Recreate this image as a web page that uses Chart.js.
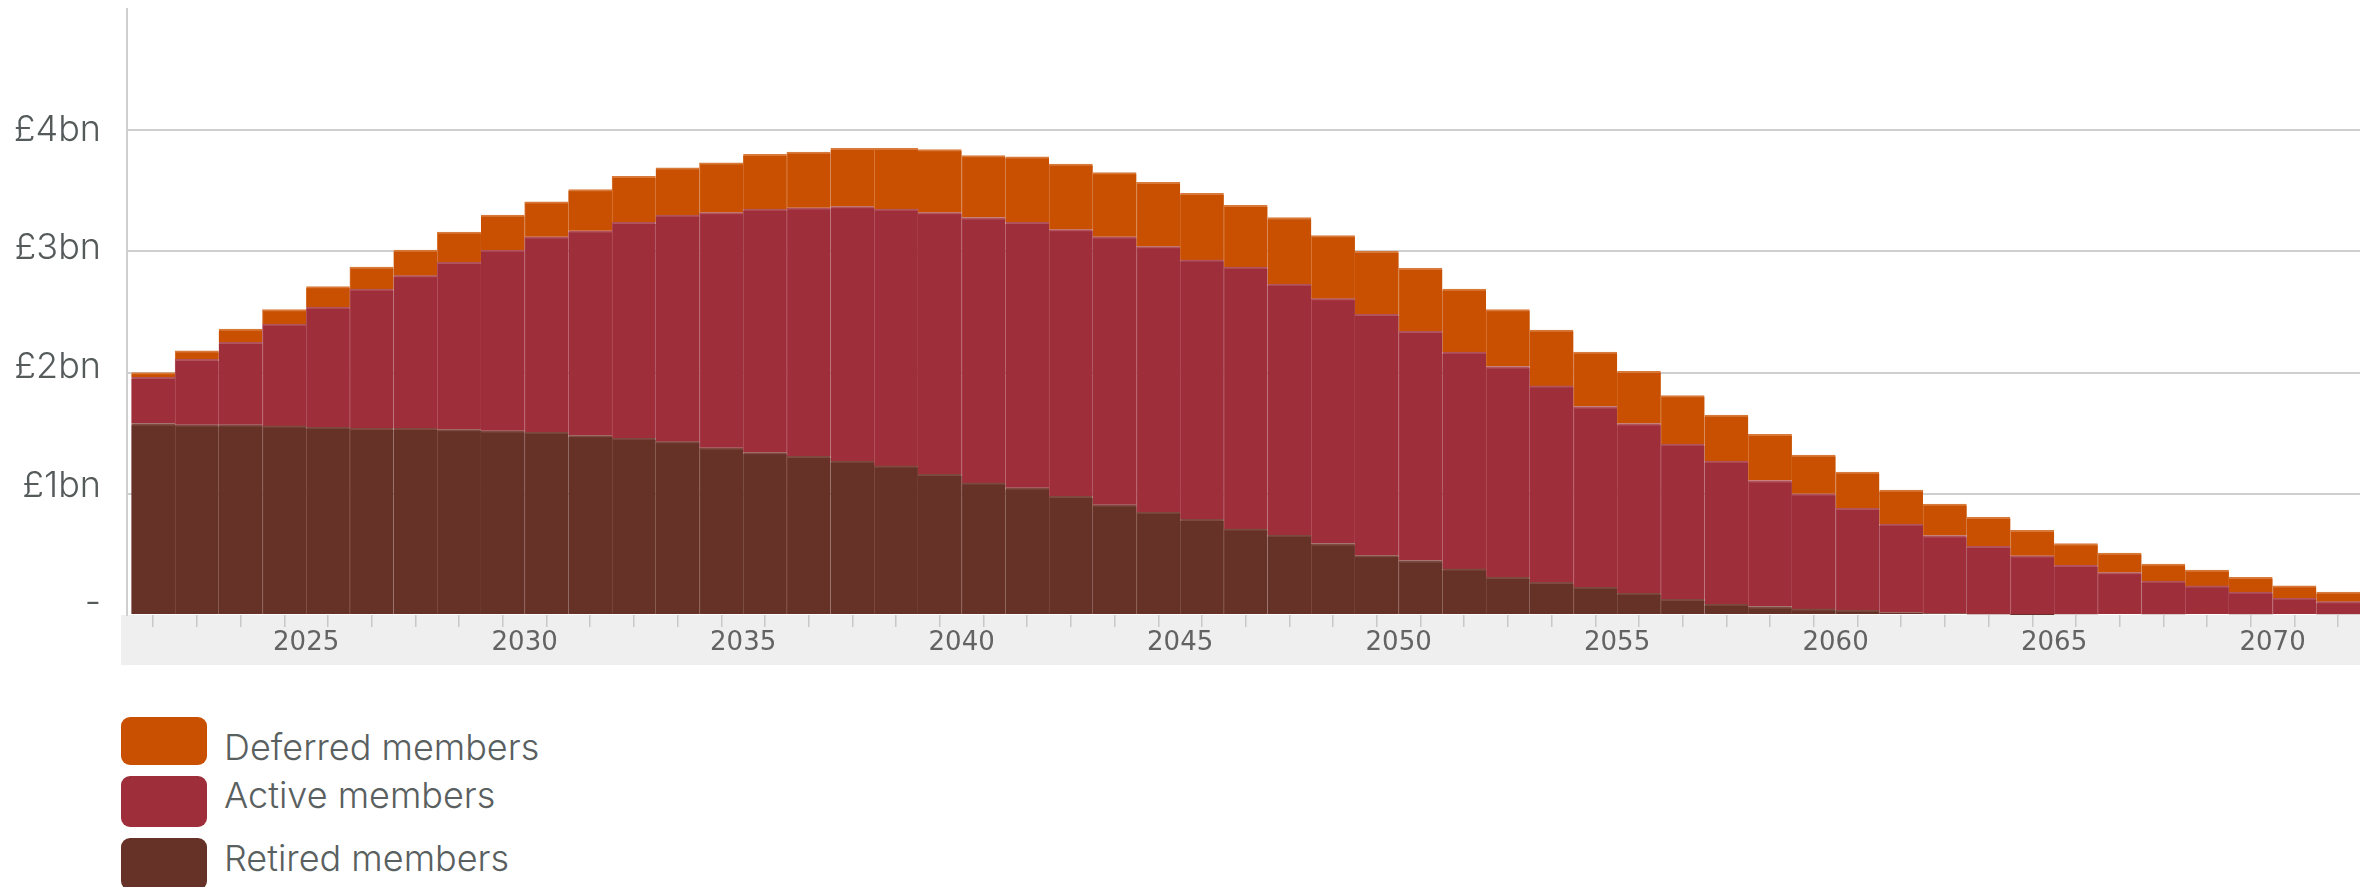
<!DOCTYPE html>
<html>
<head>
<meta charset="utf-8">
<script src="https://cdn.jsdelivr.net/npm/chart.js@4.4.1/dist/chart.umd.min.js"></script>
<style>
html,body{margin:0;padding:0;background:#ffffff;}
#wrap{position:relative;width:2371px;height:887px;overflow:hidden;background:#ffffff;}
#c{position:absolute;left:0;top:0;}
.sw{position:absolute;left:121px;width:86px;border-radius:9px;}
.lt{position:absolute;left:224px;font-family:Inter,"Open Sans",sans-serif;font-weight:300;font-size:36px;line-height:36px;color:#5a5f5f;white-space:nowrap;}
</style>
</head>
<body>
<div id="wrap">
<canvas id="c" width="2371" height="665"></canvas>
<div id="legend"></div>
</div>
<script>
// ---- data ----
const years = [2021,2022,2023,2024,2025,2026,2027,2028,2029,2030,
               2031,2032,2033,2034,2035,2036,2037,2038,2039,2040,
               2041,2042,2043,2044,2045,2046,2047,2048,2049,2050,
               2051,2052,2053,2054,2055,2056,2057,2058,2059,2060,
               2061,2062,2063,2064,2065,2066,2067,2068,2069,2070,2071];

const retired = [1.58,1.57,1.57,1.56,1.55,1.54,1.54,1.53,1.52,1.51,
                 1.48,1.46,1.43,1.38,1.34,1.31,1.27,1.23,1.16,1.09,
                 1.05,0.98,0.91,0.85,0.79,0.71,0.66,0.59,0.49,0.45,
                 0.38,0.31,0.27,0.23,0.18,0.13,0.09,0.07,0.05,0.04,
                 0.02,0.012,0.006,0.003,0,0,0,0,0,0,0];

const active = [0.38,0.54,0.68,0.84,0.99,1.15,1.26,1.38,1.49,1.61,
                1.69,1.78,1.87,1.94,2.01,2.05,2.10,2.12,2.16,2.19,
                2.19,2.20,2.21,2.19,2.14,2.16,2.07,2.02,1.99,1.89,
                1.79,1.74,1.62,1.49,1.40,1.28,1.18,1.04,0.95,0.84,
                0.73,0.644,0.56,0.485,0.41,0.35,0.28,0.24,0.19,0.14,0.11];

const deferred = [0.04,0.07,0.11,0.12,0.17,0.18,0.21,0.25,0.29,0.29,
                  0.34,0.38,0.39,0.41,0.45,0.46,0.48,0.50,0.52,0.51,
                  0.54,0.54,0.53,0.53,0.55,0.51,0.55,0.52,0.52,0.52,
                  0.52,0.47,0.46,0.45,0.43,0.40,0.38,0.38,0.32,0.30,
                  0.28,0.26,0.24,0.21,0.18,0.16,0.14,0.13,0.12,0.10,0.08];

const xLabelYears = [2025,2030,2035,2040,2045,2050,2055,2060,2065,2070];
const yTickValues = [0,1,2,3,4,5];
const yTickLabels = ['-','£1bn','£2bn','£3bn','£4bn',''];

const seriesNames = ['Deferred members','Active members','Retired members'];

// ---- styles ----
const COL = {deferred: '#c85000', active: '#9e2e3a', retired: '#663126'};
const EDGE = {deferred: '#d8793a', active: '#b2525c', retired: '#7e4a40'};
// small upward nudge (px) of each y label, as in the original artwork
const yLabelLift = [12, 8, 5, 3, 0, 0];
const Y_FONT = 36;

const xMin = 2020.9, xMax = 2072.0;

// tick list: half-year tick marks + labelled years
const halfTicks = years.map(y => y + 0.5);
const allTicks = halfTicks.concat(xLabelYears).sort((a,b)=>a-b);

function mkData(arr){ return years.map((y,i)=>({x: y + 0.5, y: arr[i]})); }

function bw(ctx){
  return {top: 2, left: (ctx.dataIndex % 2 === 1) ? 1 : 0, right: 0, bottom: 0};
}

const bandPlugin = {
  id: 'band',
  beforeDraw(chart){
    const {ctx, chartArea, scales} = chart;
    const x = scales.x;
    ctx.save();
    ctx.fillStyle = '#efefef';
    ctx.fillRect(chartArea.left - 6, x.top, chartArea.right - chartArea.left + 6, 52);
    ctx.restore();
  }
};

const chart = new Chart(document.getElementById('c'), {
  type: 'bar',
  data: {
    datasets: [
      {label: 'Retired members', data: mkData(retired), backgroundColor: COL.retired, borderColor: EDGE.retired, borderWidth: bw, borderSkipped: false},
      {label: 'Active members', data: mkData(active), backgroundColor: COL.active, borderColor: EDGE.active, borderWidth: bw, borderSkipped: false},
      {label: 'Deferred members', data: mkData(deferred), backgroundColor: COL.deferred, borderColor: EDGE.deferred, borderWidth: bw, borderSkipped: false}
    ]
  },
  options: {
    responsive: false,
    devicePixelRatio: 1,
    animation: false,
    barThickness: 'flex',
    categoryPercentage: 1.0,
    barPercentage: 1.0,
    layout: {padding: {top: 9, right: 11, left: 0, bottom: 0}},
    plugins: {legend: {display: false}, tooltip: {enabled: false}},
    scales: {
      x: {
        type: 'linear',
        offset: false,
        min: xMin, max: xMax,
        stacked: true,
        afterBuildTicks: s => { s.ticks = allTicks.map(v => ({value: v})); },
        afterFit: s => { s.height = 50; s.paddingLeft = 0; s.paddingRight = 0; },
        border: {display: false},
        grid: {
          offset: false,
          drawOnChartArea: false,
          drawTicks: true,
          tickLength: 12,
          lineWidth: 1.5,
          color: ctx => (ctx.tick && xLabelYears.includes(ctx.tick.value)) ? 'rgba(0,0,0,0)' : '#c8c8c8'
        },
        ticks: {
          autoSkip: false,
          maxRotation: 0,
          padding: 1,
          color: '#636363',
          font: {family: 'DejaVu Sans', size: 26},
          callback: v => xLabelYears.includes(v) ? String(v) : ''
        }
      },
      y: {
        stacked: true,
        min: 0, max: 5,
        afterBuildTicks: s => { s.ticks = yTickValues.map(v => ({value: v})); },
        afterFit: s => { s.width = 127; s.paddingTop = 0; s.paddingBottom = 0; },
        border: {display: true, color: '#cfcfcf', width: 2},
        grid: {
          drawTicks: false,
          lineWidth: 2,
          color: ctx => (ctx.tick && (ctx.tick.value === 0 || ctx.tick.value === 5)) ? 'rgba(0,0,0,0)' : '#cfcfcf'
        },
        ticks: {
          padding: 26,
          color: '#555a5a',
          font: ctx => {
            const i = yTickValues.indexOf(ctx.tick ? ctx.tick.value : -1);
            const lift = i >= 0 ? yLabelLift[i] : 0;
            return {family: 'Inter', size: Y_FONT, weight: 300, lineHeight: lift > 0 ? (2 * lift) / Y_FONT : 1.2};
          },
          callback: v => {
            const i = yTickValues.indexOf(v);
            const txt = yTickLabels[i];
            return yLabelLift[i] > 0 ? [txt, ''] : txt;
          }
        }
      }
    }
  },
  plugins: [bandPlugin]
});

// ---- HTML legend ----
const legendColors = [COL.deferred, COL.active, COL.retired];
const swTop = [717, 776, 838];
const swH = [48, 51, 52];
const txtTop = [729, 777, 840];
const leg = document.getElementById('legend');
seriesNames.forEach((n,i) => {
  const s = document.createElement('div');
  s.className = 'sw';
  s.style.top = swTop[i] + 'px';
  s.style.height = swH[i] + 'px';
  s.style.background = legendColors[i];
  leg.appendChild(s);
  const t = document.createElement('div');
  t.className = 'lt';
  t.style.top = txtTop[i] + 'px';
  t.textContent = n;
  leg.appendChild(t);
});
</script>
</body>
</html>
